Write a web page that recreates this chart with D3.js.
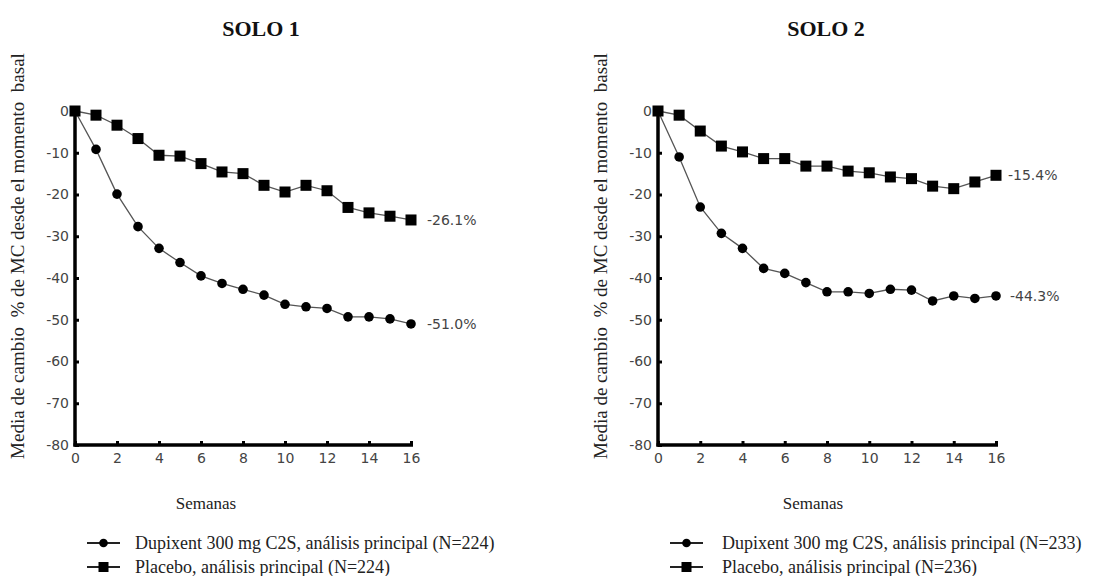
<!DOCTYPE html>
<html><head><meta charset="utf-8">
<script src="https://cdn.jsdelivr.net/npm/d3@7"></script>
<style>
html,body{margin:0;padding:0;background:#fff;}
svg{display:block;}
.serif{font-family:"Liberation Serif","Times New Roman",serif;}
.sans{font-family:"DejaVu Sans",sans-serif;}
</style></head>
<body>
<svg id="chart" width="1119" height="576"></svg>
<script>
const weeks = d3.range(0, 17);
const xTicks = [0,2,4,6,8,10,12,14,16];
const yTicks = [0,-10,-20,-30,-40,-50,-60,-70,-80];

const solo1Dupixent = [0,-9.2,-19.9,-27.7,-32.9,-36.3,-39.5,-41.3,-42.7,-44.1,-46.3,-46.9,-47.3,-49.3,-49.3,-49.8,-51.0];
const solo1Placebo  = [0,-1.0,-3.4,-6.6,-10.6,-10.8,-12.6,-14.6,-15.0,-17.8,-19.4,-17.8,-19.1,-23.1,-24.4,-25.2,-26.1];
const solo2Dupixent = [0,-11.0,-23.0,-29.3,-32.9,-37.7,-38.9,-41.1,-43.3,-43.3,-43.7,-42.7,-42.9,-45.5,-44.3,-44.9,-44.3];
const solo2Placebo  = [0,-1.0,-4.8,-8.4,-9.8,-11.4,-11.4,-13.2,-13.2,-14.4,-14.8,-15.8,-16.2,-18.0,-18.6,-17.0,-15.4];

const titles = ["SOLO 1","SOLO 2"];
const endLabels1 = ["-51.0%","-26.1%"];
const endLabels2 = ["-44.3%","-15.4%"];
const legend1 = ["Dupixent 300 mg C2S, análisis principal (N=224)","Placebo, análisis principal (N=224)"];
const legend2 = ["Dupixent 300 mg C2S, análisis principal (N=233)","Placebo, análisis principal (N=236)"];
const yLabel = "Media de cambio  % de MC desde el momento  basal";
const xLabel = "Semanas";

const svg = d3.select("#chart");

const panels = [
  {x0:75, x1:411, title:titles[0], titleX:261, semX:206, ylabX:24, legMk:[87,120], legTx:135,
   series:[solo1Dupixent, solo1Placebo], labels:endLabels1, labX:[427,427], legend:legend1},
  {x0:658, x1:996, title:titles[1], titleX:826, semX:813, ylabX:607, legMk:[670,703], legTx:722,
   series:[solo2Dupixent, solo2Placebo], labels:endLabels2, labX:[1010,1008], legend:legend2}
];

panels.forEach(p => {
  const x = d3.scaleLinear().domain([0,16]).range([p.x0, p.x1]);
  const y = d3.scaleLinear().domain([-80,0]).range([445, 111]);
  const g = svg.append("g");

  g.append("text").attr("class","serif").attr("x", p.titleX).attr("y", 36).attr("text-anchor","middle")
    .attr("font-weight","bold").attr("font-size", 22).attr("fill","#111")
    .text(p.title);

  g.append("text").attr("class","serif").attr("transform", `translate(${p.ylabX},256) rotate(-90)`)
    .attr("text-anchor","middle").attr("font-size", 19).attr("fill","#222")
    .style("white-space","pre").text(yLabel);

  g.append("text").attr("class","serif").attr("x", p.semX).attr("y", 509).attr("text-anchor","middle")
    .attr("font-size", 17).attr("fill","#222").text(xLabel);

  const line = d3.line().x((d,i)=>x(weeks[i])).y(d=>y(d));
  p.series.forEach(s => {
    g.append("path").datum(s).attr("d", line).attr("fill","none")
      .attr("stroke","#555").attr("stroke-width",1.3);
  });

  const fmt = d => String(d);
  const ax = g.append("g").attr("transform",`translate(0,${y(-80)})`)
    .call(d3.axisBottom(x).tickValues(xTicks).tickFormat(fmt).tickSizeInner(-4).tickSizeOuter(0).tickPadding(8));
  const ay = g.append("g").attr("transform",`translate(${x(0)},0)`)
    .call(d3.axisLeft(y).tickValues(yTicks).tickFormat(fmt).tickSizeInner(-4).tickSizeOuter(0).tickPadding(6));
  [ax, ay].forEach(a => {
    a.attr("font-family", null).attr("font-size", null);
    a.select(".domain").attr("stroke","#000").attr("stroke-width",3.5);
    a.selectAll(".tick line").attr("stroke","#000").attr("stroke-width",3);
    a.selectAll(".tick text").attr("class","sans").attr("font-size",14).attr("fill","#444");
  });
  ax.select(".domain").attr("d", `M${x(0)-1.5},0H${x(16)+2}`);
  ay.select(".domain").attr("d", `M0,${y(0)-3}V${y(-80)+1.5}`);

  g.selectAll("circle.m").data(p.series[0]).enter().append("circle")
    .attr("cx",(d,i)=>x(weeks[i])).attr("cy",d=>y(d)).attr("r",4.8).attr("fill","#000");
  const sq = 11;
  g.selectAll("rect.m").data(p.series[1]).enter().append("rect")
    .attr("x",(d,i)=>x(weeks[i])-sq/2).attr("y",d=>y(d)-sq/2).attr("width",sq).attr("height",sq).attr("fill","#000");

  p.series.forEach((s,k) => {
    g.append("text").attr("class","sans").attr("x", p.labX[k]).attr("y", y(s[16])).attr("dy","0.35em")
      .attr("font-size",14).attr("fill","#444").text(p.labels[k]);
  });

  const ly = [543, 567];
  ly.forEach((yy,k) => {
    g.append("line").attr("x1",p.legMk[0]).attr("x2",p.legMk[1]).attr("y1",yy).attr("y2",yy)
      .attr("stroke","#222").attr("stroke-width",2);
    const cx = (p.legMk[0]+p.legMk[1])/2;
    if (k===0) g.append("circle").attr("cx",cx).attr("cy",yy).attr("r",4.3).attr("fill","#000");
    else g.append("rect").attr("x",cx-5).attr("y",yy-5).attr("width",10).attr("height",10).attr("fill","#000");
    g.append("text").attr("class","serif").attr("x",p.legTx).attr("y",yy).attr("dy","0.33em")
      .attr("font-size",18).attr("fill","#222").text(p.legend[k]);
  });
});
</script>
</body></html>
